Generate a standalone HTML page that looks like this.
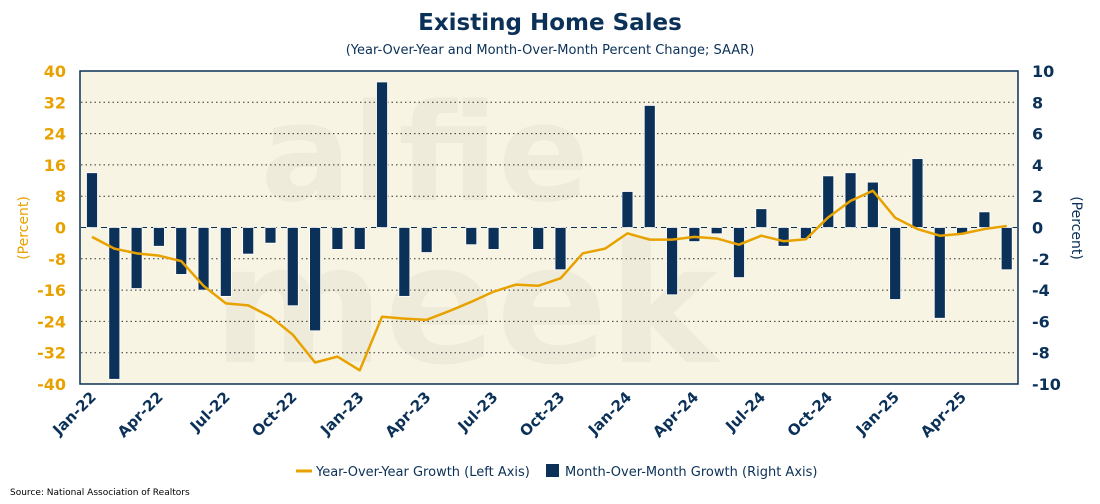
<!DOCTYPE html>
<html><head><meta charset="utf-8"><style>
body{margin:0;background:#fff;width:1100px;height:500px;overflow:hidden;font-family:"DejaVu Sans","Liberation Sans",sans-serif}
</style></head><body>
<svg id="chart" width="1100" height="500" xmlns="http://www.w3.org/2000/svg" font-family="DejaVu Sans, Liberation Sans, sans-serif">
<defs><clipPath id="plotClip"><rect x="80" y="71" width="938" height="313"/></clipPath></defs>
<text x="550" y="30" text-anchor="middle" font-size="23" font-weight="bold" fill="#0b3158">Existing Home Sales</text>
<text x="550" y="54" text-anchor="middle" font-size="13" fill="#0b3158">(Year-Over-Year and Month-Over-Month Percent Change; SAAR)</text>
<rect x="80" y="71" width="938" height="313" fill="#f8f4e3" stroke="#0b3158" stroke-width="1.5"/>
<g fill="#efebda" font-weight="bold" font-family="DejaVu Sans, sans-serif" clip-path="url(#plotClip)">
<text x="425" y="200" font-size="135" text-anchor="middle">alfie</text>
<text x="465" y="362" font-size="165" text-anchor="middle">meek</text>
</g>
<g id="grid"></g><g id="bars"></g><g id="line"></g><g id="axes"></g>
<text transform="translate(28,228) rotate(-90)" text-anchor="middle" font-size="14" fill="#e8a200">(Percent)</text>
<text transform="translate(1072,228) rotate(90)" text-anchor="middle" font-size="14" fill="#0b3158">(Percent)</text>
<g>
<line x1="296" y1="471" x2="312" y2="471" stroke="#e8a200" stroke-width="3"/>
<text x="316" y="476" font-size="13" fill="#0b3158">Year-Over-Year Growth (Left Axis)</text>
<rect x="546" y="464" width="13" height="13" fill="#0b3158"/>
<text x="565" y="476" font-size="13" fill="#0b3158">Month-Over-Month Growth (Right Axis)</text>
</g>
<text x="10" y="495" font-size="9" fill="#000">Source: National Association of Realtors</text>
</svg>
<script>
const months = ["Jan-22","Feb-22","Mar-22","Apr-22","May-22","Jun-22","Jul-22","Aug-22","Sep-22","Oct-22","Nov-22","Dec-22","Jan-23","Feb-23","Mar-23","Apr-23","May-23","Jun-23","Jul-23","Aug-23","Sep-23","Oct-23","Nov-23","Dec-23","Jan-24","Feb-24","Mar-24","Apr-24","May-24","Jun-24","Jul-24","Aug-24","Sep-24","Oct-24","Nov-24","Dec-24","Jan-25","Feb-25","Mar-25","Apr-25","May-25","Jun-25"];
const momValues = [3.5,-9.7,-3.9,-1.2,-3.0,-4.0,-4.4,-1.7,-1.0,-5.0,-6.6,-1.4,-1.4,9.3,-4.4,-1.6,0,-1.1,-1.4,0,-1.4,-2.7,0,0,2.3,7.8,-4.3,-0.9,-0.4,-3.2,1.2,-1.2,-0.7,3.3,3.5,2.9,-4.6,4.4,-5.8,-0.4,1.0,-2.7];
const yoyValues = [-2.4,-5.4,-6.6,-7.2,-8.6,-14.9,-19.4,-19.9,-22.8,-27.4,-34.5,-33.0,-36.5,-22.8,-23.3,-23.6,-21.4,-19.0,-16.4,-14.6,-14.9,-13.0,-6.6,-5.4,-1.5,-3.1,-3.1,-2.4,-2.8,-4.4,-2.1,-3.5,-3.0,2.6,6.8,9.4,2.5,-0.4,-2.1,-1.6,-0.4,0.4];
const leftTicks = [40,32,24,16,8,0,-8,-16,-24,-32,-40];
const rightTicks = [10,8,6,4,2,0,-2,-4,-6,-8,-10];
const xTickLabels = ["Jan-22","Apr-22","Jul-22","Oct-22","Jan-23","Apr-23","Jul-23","Oct-23","Jan-24","Apr-24","Jul-24","Oct-24","Jan-25","Apr-25"];

const NS="http://www.w3.org/2000/svg";
const plotTop=71,plotBot=384,x0=92,step=22.31;
const xPos=i=>x0+step*i;
const yL=v=>plotTop+(40-v)/80*(plotBot-plotTop);
const yR=v=>plotTop+(10-v)/20*(plotBot-plotTop);
function mk(tag,attrs,parent){const e=document.createElementNS(NS,tag);for(const k in attrs)e.setAttribute(k,attrs[k]);parent.appendChild(e);return e;}
const grid=document.getElementById('grid'),bars=document.getElementById('bars'),line=document.getElementById('line'),axes=document.getElementById('axes');
leftTicks.forEach(v=>{
  const y=yL(v);
  if(v!==40&&v!==-40){const g=mk('line',{x1:81,x2:1017,y1:y,y2:y,stroke:v===0?'#0b3158':'#333','stroke-width':1,'stroke-dasharray':v===0?'6,4':'1.5,3'},grid);
  
  }
  const t=mk('text',{x:66,y:y+6,'text-anchor':'end','font-size':16,'font-weight':'bold',fill:'#e8a200'},axes);t.textContent=v;
  
  
});
rightTicks.forEach(v=>{
  const t=mk('text',{x:1032,y:yR(v)+6,'font-size':16,'font-weight':'bold',fill:'#0b3158'},axes);t.textContent=v;
  
  
});
momValues.forEach((v,i)=>{
  const y0=yR(0),y1=yR(v);
  const r=mk('rect',{x:xPos(i)-5.5,y:Math.min(y0,y1),width:11,height:Math.max(0,Math.abs(y1-y0)),fill:'#0b3158',stroke:'#fff','stroke-width':0.8},bars);
  
  
});
const p=mk('polyline',{points:yoyValues.map((v,i)=>xPos(i)+','+yL(v)).join(' '),fill:'none',stroke:'#e8a200','stroke-width':2.5,'stroke-linejoin':'round'},line);


xTickLabels.forEach(lbl=>{
  const i=months.indexOf(lbl),x=xPos(i);
  const t=mk('text',{transform:`translate(${x+5},${398}) rotate(-45)`,'text-anchor':'end','font-size':15,'font-weight':'bold',fill:'#0b3158'},axes);t.textContent=lbl;
  
  
});
</script>
</body></html>
